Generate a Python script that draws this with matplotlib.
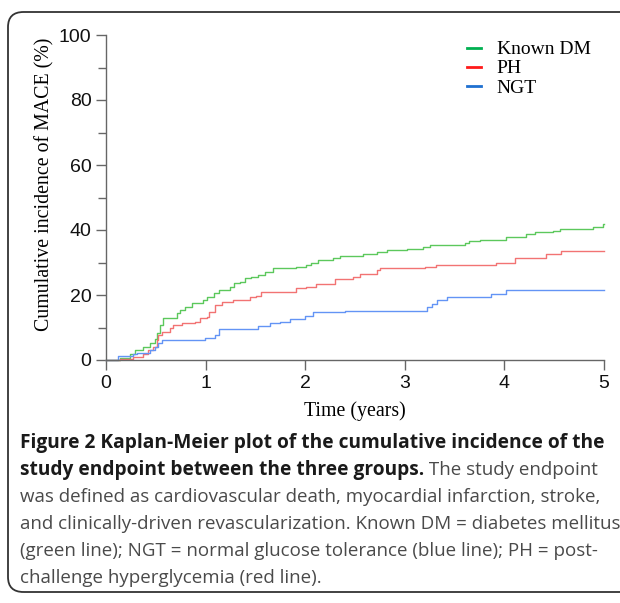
import matplotlib.pyplot as plt
from matplotlib.patches import FancyBboxPatch
from matplotlib.lines import Line2D

# step curves (time in years, cumulative incidence %)
dm_t = [0, 0.14, 0.24, 0.29, 0.37, 0.44, 0.49, 0.51, 0.54, 0.57, 0.71, 0.74, 0.79, 0.86, 0.97,
        1.01, 1.08, 1.13, 1.24, 1.29, 1.35, 1.40, 1.46, 1.53, 1.60, 1.68, 1.91, 2.01, 2.06, 2.13,
        2.28, 2.35, 2.58, 2.72, 2.82, 3.02, 3.18, 3.25, 3.60, 3.64, 3.75, 4.02, 4.22, 4.31, 4.49,
        4.56, 4.89, 4.99, 5.0]
dm_y = [0, 0.6, 1.7, 3.1, 4.1, 5.3, 6.5, 8.2, 10.8, 13.0, 14.4, 15.4, 16.4, 17.4, 18.5,
        19.5, 20.5, 21.5, 22.5, 23.6, 24.1, 25.1, 25.6, 26.2, 27.2, 28.2, 28.5, 29.2, 29.9, 30.8,
        31.3, 32.0, 32.6, 33.2, 33.7, 34.3, 34.9, 35.3, 36.0, 36.6, 37.0, 38.0, 38.8, 39.3, 39.8,
        40.4, 41.0, 41.8, 41.8]

ph_t = [0, 0.14, 0.27, 0.37, 0.42, 0.47, 0.51, 0.52, 0.56, 0.64, 0.67, 0.76, 0.89, 0.94, 1.01,
        1.03, 1.09, 1.16, 1.28, 1.45, 1.51, 1.56, 1.78, 1.91, 2.01, 2.11, 2.30, 2.48, 2.55, 2.72,
        2.75, 3.20, 3.31, 3.92, 4.11, 4.42, 4.57, 5.0]
ph_y = [0, 0.3, 1.0, 2.0, 3.1, 4.1, 6.2, 7.7, 8.7, 9.7, 10.8, 11.3, 11.8, 12.8, 13.3,
        14.9, 16.9, 17.9, 18.5, 19.3, 19.7, 20.8, 21.0, 22.1, 22.4, 23.3, 25.0, 25.6, 26.4, 27.7,
        28.2, 28.5, 29.1, 29.7, 31.3, 32.6, 33.6, 33.6]

ngt_t = [0, 0.12, 0.27, 0.31, 0.44, 0.49, 0.52, 0.56, 0.99, 1.09, 1.13, 1.53, 1.65, 1.75, 1.85,
         2.00, 2.08, 2.40, 3.22, 3.27, 3.32, 3.42, 3.87, 4.02, 5.0]
ngt_y = [0, 1.3, 1.7, 2.2, 3.0, 4.0, 5.1, 6.3, 6.9, 7.7, 9.5, 10.6, 11.3, 11.8, 12.5,
         13.5, 14.9, 15.2, 16.4, 17.2, 18.5, 19.3, 20.2, 21.5, 21.5]

groups = ['Known DM', 'PH', 'NGT']
line_colors = ['#5cc85c', '#f27373', '#6394f5']
key_colors = ['#00b050', '#ff1a1a', '#1f70d0']

caption = [
    [('Figure 2 Kaplan-Meier plot of the cumulative incidence of the', 'bold')],
    [('study endpoint between the three groups.', 'bold'), (' The study endpoint', 'normal')],
    [('was defined as cardiovascular death, myocardial infarction, stroke,', 'normal')],
    [('and clinically-driven revascularization. Known DM = diabetes mellitus', 'normal')],
    [('(green line); NGT = normal glucose tolerance (blue line); PH = post-', 'normal')],
    [('challenge hyperglycemia (red line).', 'normal')],
]

W, H = 620, 603
fig = plt.figure(figsize=(W / 100, H / 100), dpi=100)

# rounded frame around figure + caption
frame = FancyBboxPatch((8 / W, 1 - 592 / H), 640 / W, 580 / H,
                       boxstyle='round,pad=0,rounding_size=0.025',
                       transform=fig.transFigure, fc='none', ec='#333333', lw=1.3)
fig.patches.append(frame)

ax = fig.add_axes([106 / W, 1 - 360 / H, 498 / W, 325 / H])
for t, y, c in zip([dm_t, ph_t, ngt_t], [dm_y, ph_y, ngt_y], line_colors):
    ax.plot(t, y, drawstyle='steps-post', color=c, lw=1.0, clip_on=False)

ax.set_xlim(0, 5)
ax.set_ylim(0, 100)
ax.set_xticks(range(6))
ax.set_yticks(range(0, 101, 20))
ax.set_yticks(range(10, 100, 20), minor=True)
for s in ['top', 'right']:
    ax.spines[s].set_visible(False)
for s in ['left', 'bottom']:
    ax.spines[s].set_color('#666666')
    ax.spines[s].set_linewidth(1.0)
ax.tick_params(which='both', direction='out', color='#666666', width=1.0,
               labelsize=14, labelcolor='#111111')
ax.tick_params(which='major', length=7)
ax.tick_params(which='minor', length=6)
for lab in ax.get_xticklabels() + ax.get_yticklabels():
    lab.set_fontfamily('Liberation Sans')

ax.set_xlabel('Time (years)', fontfamily='Liberation Serif', fontsize=14.3, labelpad=7)
ax.set_ylabel('Cumulative incidence of MACE (%)', fontfamily='Liberation Serif',
              fontsize=14.3)
ax.yaxis.set_label_coords(-52 / 498, 0.54)

handles = [Line2D([], [], color=c, lw=2) for c in key_colors]
ax.legend(handles, groups, loc='upper left', bbox_to_anchor=(351 / 498, 1.0 + 4 / 325),
          frameon=False, borderpad=0, handlelength=0.75, handletextpad=0.8,
          labelspacing=0.08, prop={'family': 'Liberation Serif', 'size': 14})

# caption, with bold/normal runs on the same line
fig.canvas.draw()
renderer = fig.canvas.get_renderer()
y0 = 448
for i, runs in enumerate(caption):
    x = 20
    for txt, wt in runs:
        bold = wt == 'bold'
        t = fig.text(x / W, 1 - (y0 + i * 27) / H, txt, fontfamily='Open Sans',
                     fontweight=wt, fontsize=13.8 if bold else 13.5,
                     color='#1a1a1a' if bold else '#4a4a4a', va='baseline', ha='left')
        x = t.get_window_extent(renderer).x1

fig.savefig('out.png', dpi=100)
